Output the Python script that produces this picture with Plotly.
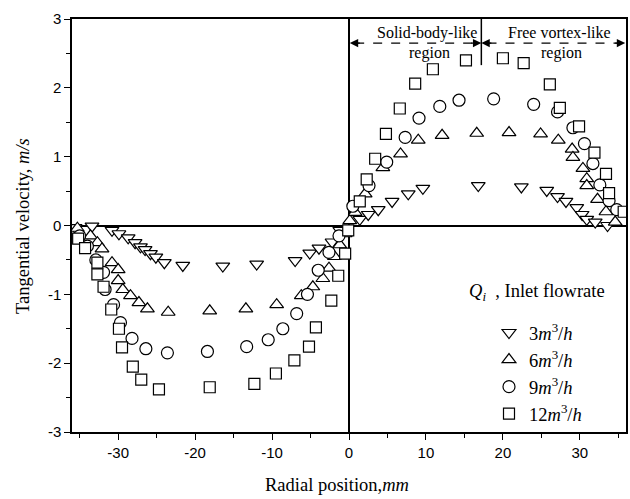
import plotly.graph_objects as go

# 3 m3/h (down triangles)
x3 = [-35.6, -33.4, -30.8, -29.9, -28.7, -27.8, -27.1, -26.5, -25.8, -25.1, -24.0, -21.6,
      -16.4, -12.0, -7.0, -5.1, -3.9, -2.2, -1.2,
      1.4, 2.5, 3.8, 5.6, 7.7, 9.6, 16.8, 22.4, 25.7, 27.1, 28.2, 29.6, 30.3, 30.9, 32.0, 33.6]
y3 = [-0.03, -0.01, -0.07, -0.12, -0.18, -0.25, -0.31, -0.35, -0.41, -0.46, -0.54, -0.58,
      -0.59, -0.56, -0.51, -0.40, -0.33, -0.24, -0.07,
      0.09, 0.16, 0.23, 0.35, 0.46, 0.54, 0.58, 0.56, 0.51, 0.42, 0.35, 0.26, 0.16, 0.09, 0.05, 0.00]

# 6 m3/h (up triangles)
x6 = [-35.3, -33.6, -32.7, -32.1, -30.8, -30.0, -30.0, -29.4, -28.4, -27.3, -26.2, -23.5,
      -18.1, -13.4, -9.4, -6.2, -4.7, -3.4, -2.6, -1.9, -1.2, -0.5,
      0.1, 0.8, 2.1, 4.4, 6.7, 9.0, 12.1, 16.6, 20.8, 24.9, 27.2, 29.0, 29.1, 30.4, 30.9, 30.9,
      32.3, 33.4, 34.6]
y6 = [-0.04, -0.15, -0.25, -0.34, -0.54, -0.64, -0.80, -0.93, -1.02, -1.12, -1.21, -1.26,
      -1.24, -1.21, -1.15, -1.02, -0.89, -0.77, -0.62, -0.45, -0.28, -0.12,
      0.07, 0.19, 0.46, 0.84, 1.04, 1.24, 1.31, 1.34, 1.35, 1.33, 1.24, 1.11, 0.99, 0.83, 0.68, 0.58,
      0.38, 0.20, 0.05]

# 9 m3/h (circles)
x9 = [-35.0, -34.0, -32.9, -31.9, -31.7, -30.6, -29.7, -28.2, -26.4, -23.6,
      -18.4, -13.3, -10.5, -8.6, -6.8, -5.4, -4.0, -2.6, -1.3,
      0.5, 2.6, 4.9, 7.3, 9.1, 11.8, 14.3, 18.8, 24.0, 27.1, 29.1, 30.6, 31.7, 32.6, 33.8, 34.8]
y9 = [-0.15, -0.30, -0.50, -0.68, -0.93, -1.15, -1.41, -1.64, -1.79, -1.85,
      -1.83, -1.76, -1.66, -1.50, -1.28, -1.00, -0.65, -0.39, -0.15,
      0.28, 0.58, 0.92, 1.28, 1.56, 1.73, 1.82, 1.84, 1.76, 1.65, 1.42, 1.19, 0.90, 0.59, 0.36, 0.23]

# 12 m3/h (squares)
x12 = [-35.2, -34.3, -32.7, -32.7, -31.9, -30.9, -29.9, -29.5, -28.1, -27.0, -24.7,
       -18.1, -12.3, -9.5, -7.1, -5.2, -4.3, -2.3, -1.4, -0.5, -0.1,
       1.4, 2.3, 3.4, 4.8, 6.6, 8.6, 10.9, 15.2, 20.0, 22.7, 26.1, 27.4,
       29.9, 31.9, 33.4, 33.8, 35.7]
y12 = [-0.19, -0.33, -0.54, -0.71, -0.89, -1.22, -1.50, -1.77, -2.05, -2.24, -2.38,
       -2.35, -2.30, -2.15, -1.96, -1.76, -1.48, -1.09, -0.73, -0.41, -0.07,
       0.35, 0.67, 0.97, 1.33, 1.70, 2.06, 2.27, 2.40, 2.43, 2.36, 2.05, 1.71,
       1.44, 1.06, 0.75, 0.47, 0.20]

series = [
    ("3<i>m</i><sup>3</sup>/<i>h</i>", x3, y3, "triangle-down", 12),
    ("6<i>m</i><sup>3</sup>/<i>h</i>", x6, y6, "triangle-up", 12),
    ("9<i>m</i><sup>3</sup>/<i>h</i>", x9, y9, "circle", 12),
    ("12<i>m</i><sup>3</sup>/<i>h</i>", x12, y12, "square", 11),
]

xticks = [-30, -20, -10, 0, 10, 20, 30]
yticks = [-3, -2, -1, 0, 1, 2, 3]

fig = go.Figure()
for i, (name, xs, ys, sym, sz) in enumerate(series):
    fig.add_trace(go.Scatter(
        x=xs, y=ys, mode="markers", name=name, legendgroup=f"g{i}",
        marker=dict(symbol=sym, size=sz, color="white",
                    line=dict(color="black", width=1.2)),
    ))

serif = "Liberation Serif, Times New Roman, serif"
sans = "Liberation Sans, Arial, sans-serif"

L, R, T, B = 72, 4, 19, 67
W, H = 630, 499
pw, ph = W - L - R, H - T - B

def px2paper_x(px):
    return (px - L) / pw

def px2paper_y(py):
    return (H - B - py) / ph

fig.update_layout(
    width=W, height=H,
    margin=dict(l=L, r=R, t=T, b=B),
    plot_bgcolor="white", paper_bgcolor="white",
    showlegend=True,
    legend=dict(
        x=px2paper_x(489), y=px2paper_y(314), xanchor="left", yanchor="top",
        bgcolor="rgba(0,0,0,0)",
        font=dict(family=serif, size=18.5, color="black"),
        tracegroupgap=0,
    ),
    xaxis=dict(
        range=[-36, 36], tickvals=xticks, ticktext=[str(v) for v in xticks],
        ticks="outside", ticklen=6, tickwidth=1.2, tickcolor="black",
        minor=dict(tickvals=[-35, -25, -15, -5, 5, 15, 25, 35], ticks="outside",
                   ticklen=4, tickwidth=1.2, tickcolor="black"),
        showline=True, linecolor="black", linewidth=1.5, mirror=True,
        showgrid=False, zeroline=True, zerolinecolor="black", zerolinewidth=1.5,
        tickfont=dict(family=sans, size=15, color="black"),
        automargin=False,
    ),
    yaxis=dict(
        range=[-3, 3], tickvals=yticks, ticktext=[str(v) for v in yticks],
        ticks="outside", ticklen=6, tickwidth=1.2, tickcolor="black",
        minor=dict(dtick=0.5, ticks="outside", ticklen=4, tickwidth=1.2, tickcolor="black"),
        showline=True, linecolor="black", linewidth=1.5, mirror=True,
        showgrid=False, zeroline=True, zerolinecolor="black", zerolinewidth=1.5,
        tickfont=dict(family=sans, size=15, color="black"),
        automargin=False,
    ),
)

# axis titles
fig.add_annotation(x=px2paper_x(337), y=px2paper_y(485), xref="paper", yref="paper",
                   xanchor="center", yanchor="middle",
                   text="Radial position,<i>mm</i>", showarrow=False,
                   font=dict(family=serif, size=18.5, color="black"))
fig.add_annotation(x=px2paper_x(23), y=px2paper_y(226), xref="paper", yref="paper",
                   xanchor="center", yanchor="middle",
                   text="Tangential velocity, <i>m/s</i>", showarrow=False, textangle=-90,
                   font=dict(family=serif, size=18.5, color="black"))
# legend title
fig.add_annotation(x=px2paper_x(467), y=px2paper_y(292), xref="paper", yref="paper",
                   xanchor="left", yanchor="middle",
                   text="<i>Q<sub>i</sub></i>  , Inlet flowrate", showarrow=False,
                   font=dict(family=serif, size=18.5, color="black"))

# region divider
xdiv = 17.2
ya = 2.65
fig.add_shape(type="line", x0=xdiv, x1=xdiv, y0=2.33, y1=3, xref="x", yref="y",
              line=dict(color="black", width=1.5))
fig.add_shape(type="line", x0=0.8, x1=xdiv - 0.8, y0=ya, y1=ya, xref="x", yref="y",
              line=dict(color="black", width=1.3, dash="dash"))
fig.add_shape(type="line", x0=xdiv + 0.8, x1=35.2, y0=ya, y1=ya, xref="x", yref="y",
              line=dict(color="black", width=1.3, dash="dash"))
for tip, tail in [(0.1, 1.6), (xdiv, xdiv - 1.5), (xdiv, xdiv + 1.5), (35.9, 34.4)]:
    fig.add_annotation(x=tip, y=ya, ax=tail, ay=ya, xref="x", yref="y", axref="x", ayref="y",
                       text="", showarrow=True, arrowhead=2, arrowsize=1.2, arrowwidth=1.4,
                       arrowcolor="black", standoff=0)

for txt, xx, yy in [("Solid-body-like", 10.2, 2.8), ("region", 10.4, 2.5),
                    ("Free vortex-like", 27.4, 2.8), ("region", 27.6, 2.5)]:
    fig.add_annotation(x=xx, y=yy, xref="x", yref="y", text=txt, showarrow=False,
                       font=dict(family=serif, size=16, color="black"))

fig.write_html("out.html", config={"displayModeBar": False},
               post_script="document.body.style.margin='0';document.body.style.padding='0';")
